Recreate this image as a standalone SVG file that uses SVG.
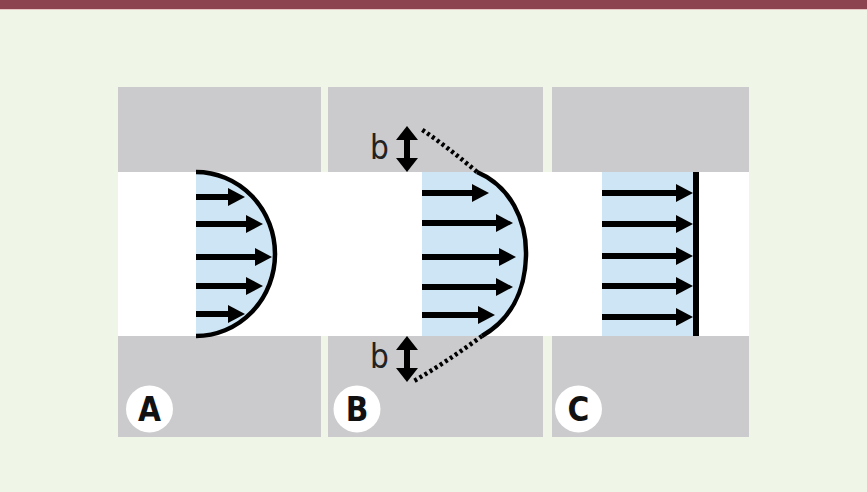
<svg xmlns="http://www.w3.org/2000/svg" width="867" height="492" viewBox="0 0 867 492">
  <defs>
    <style>
      .wall { fill: #cbcbcd; }
      .flow { fill: #cde5f4; }
      .shaft { stroke: #000; stroke-width: 6; fill: none; }
      .head { fill: #000; }
      .profile { stroke: #000; stroke-width: 4.5; fill: none; }
      .dots { stroke: #000; stroke-width: 4.5; fill: none; stroke-dasharray: 3 3; }
      .blabel { font-family: "Liberation Sans Narrow", "DejaVu Sans Condensed", "Liberation Sans", sans-serif; font-size: 33px; fill: #222; }
      .badge { fill: #fff; }
      .badgetext { font-family: "Liberation Sans Narrow", "DejaVu Sans Condensed", "Liberation Sans", sans-serif; font-size: 33px; font-weight: bold; fill: #111; text-anchor: middle; }
    </style>
    <marker id="ah" viewBox="0 0 10 10" refX="10" refY="5" markerWidth="3.1" markerHeight="3.1" markerUnits="strokeWidth" orient="auto">
      <path d="M0,0 L10,5 L0,10 Z" fill="#000"/>
    </marker>
  </defs>

  <rect x="0" y="0" width="867" height="492" fill="#eff6e8"/>
  <rect x="0" y="0" width="867" height="9" fill="#8c4451"/>
  <rect x="0" y="9" width="867" height="1" fill="#e6c9c6"/>

  <!-- channel -->
  <rect x="118" y="172" width="631" height="164" fill="#ffffff"/>

  <g id="walls">
    <rect class="wall" x="118" y="87" width="203" height="85"/>
    <rect class="wall" x="328" y="87" width="215" height="85"/>
    <rect class="wall" x="552" y="87" width="197" height="85"/>
    <rect class="wall" x="118" y="336" width="203" height="101"/>
    <rect class="wall" x="328" y="336" width="215" height="101"/>
    <rect class="wall" x="552" y="336" width="197" height="101"/>
  </g>

  <g id="panel-A">
    <path class="flow" d="M196,172 A79,82 0 0 1 196,336 Z"/>
    <g id="arrows-A">
      <line class="shaft" x1="196" y1="197" x2="229" y2="197"/>
      <path class="head" d="M228,188 L245,197 L228,206 Z"/>
      <line class="shaft" x1="196" y1="224" x2="247" y2="224"/>
      <path class="head" d="M246,215 L263,224 L246,233 Z"/>
      <line class="shaft" x1="196" y1="257" x2="256" y2="257"/>
      <path class="head" d="M255,248 L272,257 L255,266 Z"/>
      <line class="shaft" x1="196" y1="286" x2="247" y2="286"/>
      <path class="head" d="M246,277 L263,286 L246,295 Z"/>
      <line class="shaft" x1="196" y1="314" x2="229" y2="314"/>
      <path class="head" d="M228,305 L245,314 L228,323 Z"/>
    </g>
    <path class="profile" d="M196,172 A79,82 0 0 1 196,336"/>
    <g id="label-A">
      <circle class="badge" cx="149.5" cy="409" r="23.5"/>
      <text class="badgetext" x="149.5" y="421">A</text>
    </g>
  </g>

  <g id="panel-B">
    <path class="flow" d="M422,172 L477,172 C510,186 527,220 526,256 C525,292 510,320 482,336 L422,336 Z"/>
    <g id="arrows-B">
      <line class="shaft" x1="422" y1="193" x2="473" y2="193"/>
      <path class="head" d="M472,184 L489,193 L472,202 Z"/>
      <line class="shaft" x1="422" y1="223" x2="497" y2="223"/>
      <path class="head" d="M496,214 L513,223 L496,232 Z"/>
      <line class="shaft" x1="422" y1="257" x2="500" y2="257"/>
      <path class="head" d="M499,248 L516,257 L499,266 Z"/>
      <line class="shaft" x1="422" y1="287" x2="497" y2="287"/>
      <path class="head" d="M496,278 L513,287 L496,296 Z"/>
      <line class="shaft" x1="422" y1="315" x2="479" y2="315"/>
      <path class="head" d="M478,306 L495,315 L478,324 Z"/>
    </g>
    <path class="profile" d="M477,172 C510,186 527,220 526,256 C525,292 510,320 482,336"/>
    <path class="dots" d="M477,172 Q449,148 421,129"/>
    <path class="dots" d="M482,336 Q448,361 414,381"/>
    <g id="slip-top">
      <text class="blabel" x="370" y="159">b</text>
      <line class="shaft" x1="407" y1="138" x2="407" y2="160"/>
      <path class="head" d="M396,140 L407,126 L418,140 Z"/>
      <path class="head" d="M396,158 L407,172 L418,158 Z"/>
    </g>
    <g id="slip-bottom">
      <text class="blabel" x="370" y="368">b</text>
      <line class="shaft" x1="407" y1="348" x2="407" y2="370"/>
      <path class="head" d="M396,350 L407,336 L418,350 Z"/>
      <path class="head" d="M396,368 L407,382 L418,368 Z"/>
    </g>
    <g id="label-B">
      <circle class="badge" cx="357" cy="409" r="23.5"/>
      <text class="badgetext" x="357" y="421">B</text>
    </g>
  </g>

  <g id="panel-C">
    <rect class="flow" x="602" y="172" width="94" height="164"/>
    <g id="arrows-C">
      <line class="shaft" x1="602" y1="193" x2="677" y2="193"/>
      <path class="head" d="M676,184 L693,193 L676,202 Z"/>
      <line class="shaft" x1="602" y1="224" x2="677" y2="224"/>
      <path class="head" d="M676,215 L693,224 L676,233 Z"/>
      <line class="shaft" x1="602" y1="256" x2="677" y2="256"/>
      <path class="head" d="M676,247 L693,256 L676,265 Z"/>
      <line class="shaft" x1="602" y1="286" x2="677" y2="286"/>
      <path class="head" d="M676,277 L693,286 L676,295 Z"/>
      <line class="shaft" x1="602" y1="317" x2="677" y2="317"/>
      <path class="head" d="M676,308 L693,317 L676,326 Z"/>
    </g>
    <line x1="696" y1="172" x2="696" y2="336" stroke="#000" stroke-width="6"/>
    <g id="label-C">
      <circle class="badge" cx="578.5" cy="409" r="23.5"/>
      <text class="badgetext" x="578.5" y="421">C</text>
    </g>
  </g>
</svg>
